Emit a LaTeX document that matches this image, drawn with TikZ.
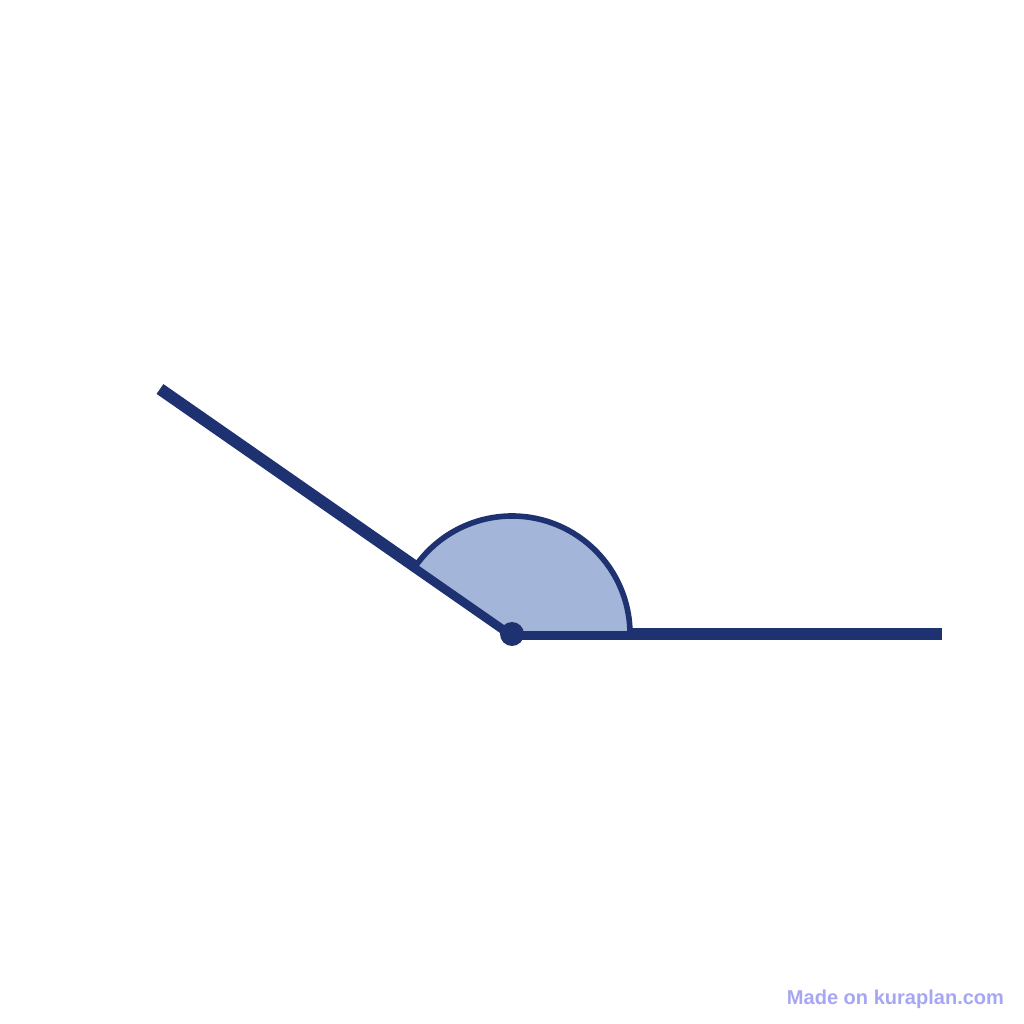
\documentclass[tikz,border=0pt]{standalone}
\usepackage{fontspec}
\setmainfont{Liberation Sans}
\definecolor{navy}{HTML}{1E3170}
\definecolor{sectorfill}{HTML}{A3B5D8}
\definecolor{wm}{HTML}{A6A6F4}
\tikzset{ray/.style={line width=3.4pt, draw=navy},
         sector/.style={fill=sectorfill, draw=navy, line width=1.6pt, line join=round}}
\begin{document}
\begin{tikzpicture}
\useasboundingbox (0,0) rectangle (10.24,10.24);
\coordinate (V) at (5.12,3.90);
\coordinate (R) at (9.42,3.90);
\coordinate (L) at (1.60,6.35);
\draw[ray] (V) -- (R);
\draw[ray] (V) -- (L);
\draw[sector] (V) -- ++(0:1.18) arc[start angle=0, end angle=145.16, radius=1.18] -- cycle;
\fill[navy] (V) circle (0.12);
\node[text=wm, font=\bfseries\fontsize{5.7}{6}\selectfont, inner sep=0] (wmk) at (8.955,0.25) {Made on kuraplan.com};
\end{tikzpicture}
\end{document}
